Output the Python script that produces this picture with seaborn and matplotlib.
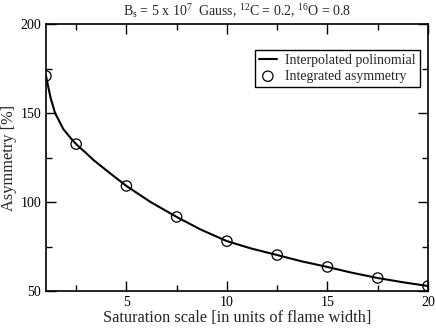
import numpy as np
import pandas as pd
import matplotlib
matplotlib.use("Agg")
import matplotlib.pyplot as plt
import seaborn as sns

# integrated asymmetry points
sat_scale = [1.0, 2.5, 5.0, 7.5, 10.0, 12.5, 15.0, 17.5, 20.0]
asymmetry = [170.8, 132.5, 109.0, 91.6, 78.0, 70.2, 63.5, 57.3, 52.8]

# interpolated polynomial
curve_x = [1.0, 1.12, 1.23, 1.45, 1.86, 2.28, 2.5, 3.0, 3.36, 4.19, 5.0, 6.2, 7.5, 8.7,
           10.0, 11.2, 12.5, 13.7, 15.0, 16.2, 17.5, 18.7, 20.0]
curve_y = [170.8, 164.2, 158.5, 150.0, 141.0, 135.2, 132.5, 127.4, 123.6, 116.1, 109.0, 100.0,
           91.6, 84.5, 78.0, 73.9, 70.2, 66.7, 63.5, 60.3, 57.3, 55.0, 52.8]

xticks = [5, 10, 15, 20]
yticks = [50, 100, 150, 200]

sns.set_style("ticks")
plt.rcParams["font.family"] = ["Liberation Serif", "DejaVu Serif"]
plt.rcParams["mathtext.fontset"] = "custom"
plt.rcParams["mathtext.rm"] = "Liberation Serif"
plt.rcParams["mathtext.it"] = "Liberation Serif:italic"

pts = pd.DataFrame({"x": sat_scale, "y": asymmetry})
crv = pd.DataFrame({"x": curve_x, "y": curve_y})

fig = plt.figure(figsize=(4.36, 3.34), dpi=100)
ax = fig.add_axes([46 / 436, 1 - 291 / 334, (428 - 46) / 436, (291 - 24) / 334])

sns.lineplot(data=crv, x="x", y="y", ax=ax, color="black", lw=1.5,
             label="Interpolated polinomial")
sns.scatterplot(data=pts, x="x", y="y", ax=ax, marker="o", s=55,
                facecolor="none", edgecolor="black", linewidth=0.9,
                label="Integrated asymmetry", zorder=3)

ax.set_xlim(1, 20)
ax.set_ylim(50, 200)
ax.set_xticks(xticks)
ax.set_yticks(yticks)
ax.set_xticks([2.5, 7.5, 12.5, 17.5], minor=True)
ax.set_yticks([75, 125, 175], minor=True)
ax.tick_params(which="both", direction="in", top=True, right=True, labelsize=10,
               width=1, color="black", labelcolor="black")
ax.tick_params(which="major", length=7)
ax.tick_params(which="minor", length=4)
for s in ax.spines.values():
    s.set_linewidth(1.2)
    s.set_color("black")

ax.set_xlabel("Saturation scale [in units of flame width]", fontsize=11.8)
ax.set_ylabel("Asymmetry [%]", fontsize=11.8)
ax.xaxis.set_label_coords(0.5, -0.072)
ax.yaxis.set_label_coords(-0.076, 0.5)
ax.set_title(r"B$_{\rm s}$ = 5 x 10$^{7}$  Gauss, $^{12}$C = 0.2, $^{16}$O = 0.8",
             fontsize=10, pad=6)

leg = ax.legend(loc="upper right", bbox_to_anchor=(0.979, 0.903), borderaxespad=0,
                fontsize=10, frameon=True, fancybox=False, edgecolor="black",
                framealpha=1, handlelength=1.3, handletextpad=0.6, borderpad=0.3,
                labelspacing=0.2)
leg.get_frame().set_linewidth(1.0)

fig.savefig("out.png", dpi=100)
